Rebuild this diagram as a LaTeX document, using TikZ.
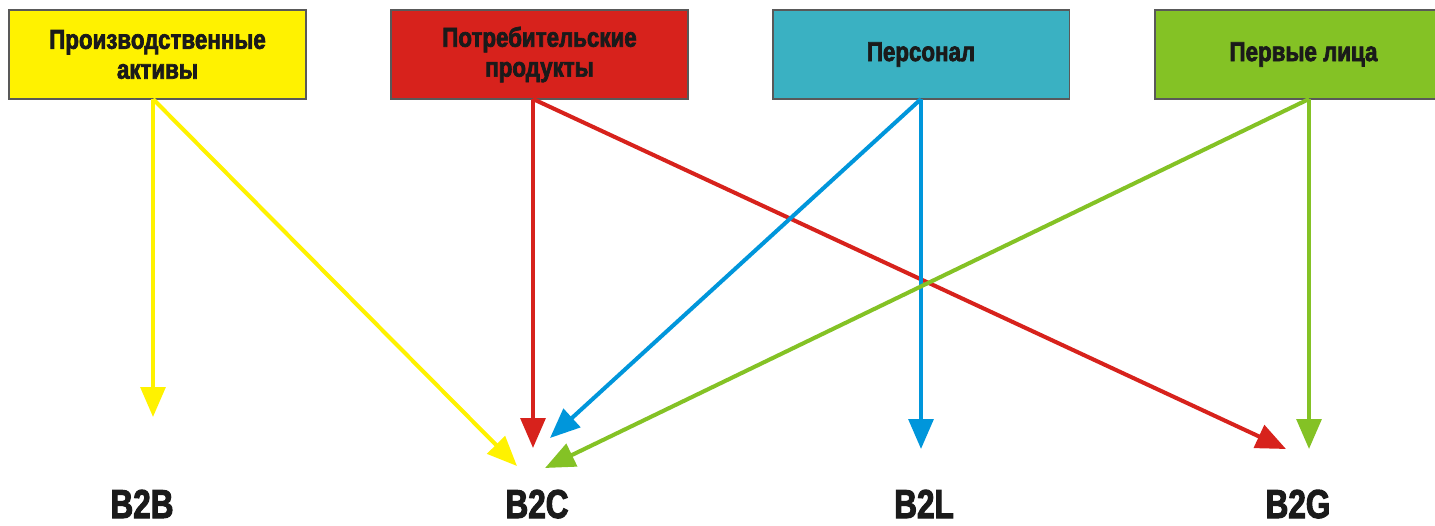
\documentclass[tikz,border=0pt]{standalone}
\usepackage{fontspec}
\setmainfont{Liberation Sans}
\newfontfamily\boxfont{Liberation Sans Bold}[FakeStretch=0.82,FakeBold=2.5]
\newfontfamily\labfont{Liberation Sans Bold}[FakeStretch=0.78,FakeBold=2.5]
\usetikzlibrary{arrows.meta}
\definecolor{cyel}{HTML}{FFF200}
\definecolor{cred}{HTML}{D7221C}
\definecolor{cteal}{HTML}{3AB1C2}
\definecolor{cgreen}{HTML}{84C225}
\definecolor{cblue}{HTML}{0096DB}
\definecolor{cborder}{HTML}{595959}
\definecolor{ctext}{HTML}{1A1A1A}
\tikzset{
  topbox/.style={draw=cborder, line width=1.1pt, minimum width=5.94cm, minimum height=1.78cm,
    inner sep=0pt, align=center, text=ctext, font=\boxfont\fontsize{15.5}{17}\selectfont},
  blabel/.style={text=ctext, font=\labfont\fontsize{23}{25}\selectfont, inner sep=0pt, anchor=base},
  conn/.style={line width=2.3pt, -{Triangle[length=17pt,width=14pt]}, shorten >=0pt},
}
\begin{document}
\begin{tikzpicture}[x=0.02cm,y=-0.02cm]
\useasboundingbox (0,0) rectangle (1435,525);
% boxes
\node[topbox, fill=cyel] (pa) at (157.5,54.5) {Производственные\\активы};
\node[topbox, fill=cred] (pp) at (539.5,54.5) {Потребительские\\продукты};
\node[topbox, fill=cteal] (ps) at (921,54.5) {Персонал};
\node[topbox, fill=cgreen] (pl) at (1303.5,54.5) {Первые лица};
% labels
\node[blabel] (b2b) at (142,518) {B2B};
\node[blabel] (b2c) at (537,518) {B2C};
\node[blabel] (b2l) at (924,518) {B2L};
\node[blabel] (b2g) at (1298,518) {B2G};
% start points
\coordinate (ys) at (153,99);
\coordinate (rs) at (533,99);
\coordinate (bs) at (921,99);
\coordinate (gs) at (1309,99);
% end points
\coordinate (ybt) at (153,417);
\coordinate (yct) at (517,466);
\coordinate (rct) at (533,448);
\coordinate (rgt) at (1286,449);
\coordinate (blt) at (921,449);
\coordinate (bct) at (550,438);
\coordinate (ggt) at (1309,449);
\coordinate (gct) at (545,468);
% connectors
\draw[conn, cred] (rs) -- (rgt);
\draw[conn, cyel] (ys) -- (ybt);
\draw[conn, cyel] (ys) -- (yct);
\draw[conn, cred] (rs) -- (rct);
\draw[conn, cblue] (bs) -- (bct);
\draw[conn, cblue] (bs) -- (blt);
\draw[conn, cgreen] (gs) -- (ggt);
\draw[conn, cgreen] (gs) -- (gct);
\end{tikzpicture}
\end{document}
